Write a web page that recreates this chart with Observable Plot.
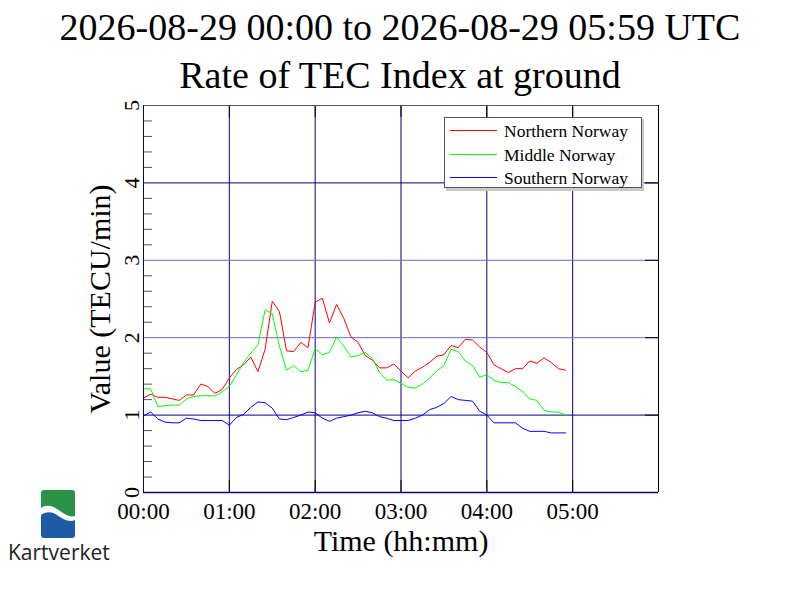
<!DOCTYPE html>
<html>
<head>
<meta charset="utf-8">
<script src="https://cdn.jsdelivr.net/npm/d3@7"></script>
<script src="https://cdn.jsdelivr.net/npm/@observablehq/plot@0.6"></script>
<style>
  html, body { margin: 0; padding: 0; background: #fff; }
  #page { position: relative; width: 800px; height: 600px; overflow: hidden; background: #fff; font-family: "Liberation Serif", "Times New Roman", serif; }
  .title { position: absolute; left: 0; width: 800px; text-align: center; font-size: 38px; line-height: 38px; color: #000; white-space: nowrap; }
  #chart { position: absolute; left: 0; top: 100px; }
  #legend { position: absolute; left: 443px; top: 116px; }
  #logo { position: absolute; left: 41px; top: 490px; }
  #brand { position: absolute; left: 8px; top: 538px; font-family: "Open Sans", "DejaVu Sans", sans-serif; font-size: 21px; color: #222; }
</style>
</head>
<body>
<div id="page">
  <div class="title" style="top:8px">2026-08-29 00:00 to 2026-08-29 05:59 UTC</div>
  <div class="title" style="top:56px">Rate of TEC Index at ground</div>
  <div id="chart"></div>
  <svg id="legend" width="202" height="76"></svg>
  <svg id="logo" width="34" height="48" viewBox="0 0 34 48">
    <path d="M0,25 C4,22 10,21 16,25 S28,33 34,30 V45 Q34,48 31,48 H3 Q0,48 0,45 Z" fill="#1f5aa6"/>
    <path d="M0,18 C4,15 10,15 16,19 S28,28 34,26 V3 Q34,0 31,0 H3 Q0,0 0,3 Z" fill="#2b9348"/>
  </svg>
  <div id="brand">Kartverket</div>
</div>
<script>
// ---- data (time in minutes after 00:00 UTC) ----
const minutes = [0,5,10,15,20,25,30,35,40,45,50,55,60,65,70,75,80,85,90,95,100,105,110,115,120,125,130,135,140,145,150,155,160,165,170,175,180,185,190,195,200,205,210,215,220,225,230,235,240,245,250,255,260,265,270,275,280,285,290,295];
const northern = [1.22,1.27,1.23,1.23,1.21,1.19,1.26,1.26,1.40,1.37,1.28,1.33,1.48,1.59,1.65,1.75,1.56,1.85,2.47,2.34,1.83,1.82,1.94,1.87,2.46,2.51,2.19,2.43,2.25,2.01,1.94,1.77,1.71,1.61,1.61,1.66,1.57,1.48,1.57,1.62,1.68,1.76,1.78,1.90,1.87,1.98,1.97,1.88,1.81,1.65,1.60,1.55,1.60,1.60,1.70,1.67,1.74,1.68,1.60,1.58];
const middle = [1.34,1.34,1.11,1.12,1.13,1.13,1.21,1.24,1.25,1.25,1.25,1.30,1.37,1.52,1.68,1.80,1.91,2.36,2.31,1.89,1.58,1.64,1.56,1.58,1.86,1.78,1.81,2.01,1.89,1.75,1.77,1.81,1.73,1.55,1.45,1.46,1.41,1.36,1.35,1.40,1.48,1.57,1.64,1.85,1.82,1.70,1.64,1.49,1.52,1.45,1.42,1.42,1.37,1.30,1.21,1.19,1.06,1.04,1.04,1.00];
const southern = [0.99,1.04,0.95,0.91,0.90,0.90,0.96,0.95,0.93,0.93,0.93,0.93,0.87,0.97,1.01,1.10,1.17,1.16,1.09,0.95,0.94,0.97,1.00,1.04,1.03,0.96,0.92,0.96,0.98,1.00,1.03,1.05,1.03,0.98,0.96,0.93,0.93,0.93,0.96,1.00,1.07,1.10,1.15,1.24,1.20,1.19,1.18,1.05,1.00,0.90,0.90,0.90,0.90,0.83,0.79,0.79,0.79,0.77,0.77,0.77];
const seriesNames = ["Northern Norway", "Middle Norway", "Southern Norway"];
const seriesColors = ["#ff0000", "#00ff00", "#0000ff"];
const hourTicks = [0, 60, 120, 180, 240, 300];
const hourLabels = ["00:00", "01:00", "02:00", "03:00", "04:00", "05:00"];
const gridHours = [60, 120, 180, 240, 300];
const yTicks = [0, 1, 2, 3, 4, 5];
const yLabels = ["0", "1", "2", "3", "4", "5"];
const yMinor = [0.2,0.4,0.6,0.8,1.2,1.4,1.6,1.8,2.2,2.4,2.6,2.8,3.2,3.4,3.6,3.8,4.2,4.4,4.6,4.8];
const gridDark = [1, 4];
const gridLight = [2, 3];

const seriesValues = [northern, middle, southern];
const rows = seriesNames.flatMap((name, i) => minutes.map((t, j) => ({t, v: seriesValues[i][j], region: name})));

const navy = "#000080";
const chart = Plot.plot({
  width: 800,
  height: 500,
  marginLeft: 143,
  marginRight: 142,
  marginTop: 5,
  marginBottom: 108,
  x: {domain: [0, 360], axis: null},
  y: {domain: [0, 5], axis: null},
  color: {domain: seriesNames, range: seriesColors},
  style: {fontFamily: "Liberation Serif, Times New Roman, serif", background: "white", overflow: "visible"},
  marks: [
    Plot.ruleX(gridHours, {x: d => d, stroke: navy, strokeWidth: 1}),
    Plot.ruleY(gridDark, {y: d => d, stroke: navy, strokeWidth: 1}),
    Plot.ruleY(gridLight, {y: d => d, stroke: "#6b6bd2", strokeWidth: 1}),
    Plot.tickY(yMinor, {y: d => d, stroke: "#555", insetRight: 506}),
    Plot.tickY(yTicks, {y: d => d, stroke: "#000", insetLeft: 502}),
    Plot.tickX(hourTicks, {x: d => d, stroke: "#000", insetTop: 375}),
    Plot.tickX(hourTicks, {x: d => d, stroke: "#000", insetBottom: 375}),
    Plot.line(rows, {x: "t", y: "v", z: "region", stroke: "region", strokeWidth: 1}),
    Plot.ruleY([5], {stroke: "#555"}),
    Plot.ruleX([360], {stroke: "#000"}),
    Plot.ruleX([0], {stroke: navy}),
    Plot.ruleY([0], {stroke: navy, strokeWidth: 1.5}),
    Plot.text(hourTicks, {x: d => d, text: (d, i) => hourLabels[i], frameAnchor: "bottom", lineAnchor: "middle", textAnchor: "middle", dy: 19, fontSize: 23, fill: "#000"}),
    Plot.text(yTicks, {y: d => d, text: (d, i) => yLabels[i], frameAnchor: "left", textAnchor: "middle", lineAnchor: "middle", dx: -12, rotate: -90, fontSize: 22, fill: "#000"}),
    Plot.text(["Value (TECU/min)"], {frameAnchor: "left", textAnchor: "middle", lineAnchor: "middle", dx: -43, rotate: -90, fontSize: 30, fill: "#000"}),
    Plot.text(["Time (hh:mm)"], {frameAnchor: "bottom", textAnchor: "middle", lineAnchor: "middle", dy: 49, fontSize: 30, fill: "#000"})
  ]
});
document.getElementById("chart").appendChild(chart);

// legend (SVG box over the plot)
const lg = d3.select("#legend");
lg.append("rect").attr("x", 3).attr("y", 3).attr("width", 198).attr("height", 72).attr("fill", "#c8c8c8");
lg.append("rect").attr("x", 1.5).attr("y", 1.5).attr("width", 197).attr("height", 70).attr("fill", "#fff").attr("stroke", "#555").attr("stroke-width", 1);
const rowY = [14.5, 38.5, 61.5];
seriesNames.forEach((name, i) => {
  lg.append("line").attr("x1", 7).attr("x2", 54).attr("y1", rowY[i]).attr("y2", rowY[i])
    .attr("stroke", seriesColors[i]).attr("stroke-width", 1);
  lg.append("text").attr("x", 61).attr("y", rowY[i] + 6)
    .attr("font-family", "Liberation Serif, Times New Roman, serif").attr("font-size", 17.5)
    .attr("fill", "#000").text(name);
});
</script>
</body>
</html>
